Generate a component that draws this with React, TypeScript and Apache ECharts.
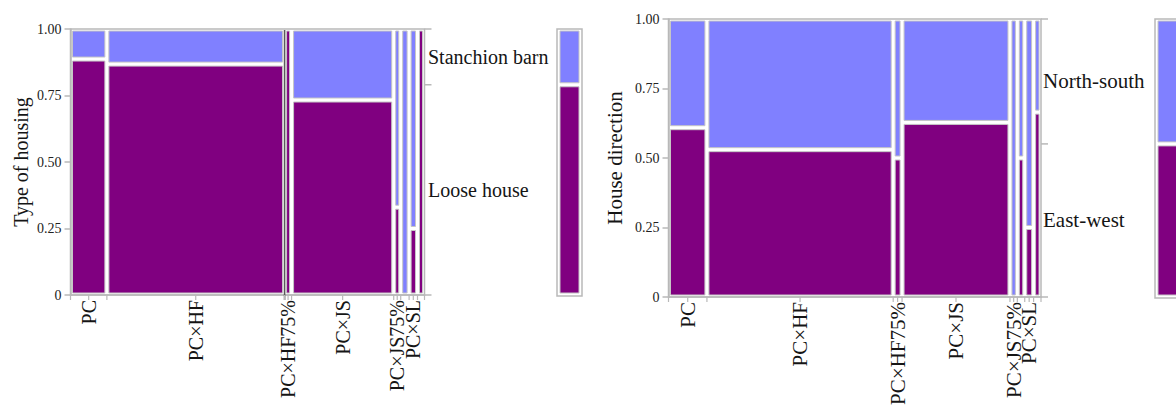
import React, { useEffect, useRef } from 'react';
import * as echarts from 'echarts';

// Type of housing by treatment group
const housingGroups = ['PC', 'PC×HF', '', 'PC×HF75%', 'PC×JS', 'PC×JS75%', '', 'PC×SL', ''];
const housingCounts = [26, 127, 0, 5, 73, 5, 6, 6, 5];
const looseHouseShare = [0.887, 0.868, 0, 1, 0.733, 0.33, 0, 0.25, 1];
const housingLevels = ['Loose house', 'Stanchion barn'];

// House direction by treatment group
const directionGroups = ['PC', 'PC×HF', 'PC×HF75%', 'PC×JS', 'PC×JS75%', '', 'PC×SL', ''];
const directionCounts = [26, 126, 6, 73, 5, 5, 6, 5];
const eastWestShare = [0.609, 0.53, 0.5, 0.628, 0, 0.5, 0.25, 0.665];
const directionLevels = ['East-west', 'North-south'];

const yTickValues = [0, 0.25, 0.5, 0.75, 1];

const LOWER = '#800080';
const UPPER = '#8080ff';
const EDGE = '#c6c6c6';
const AXIS = '#b9b9b9';
const INK = '#151515';
const SERIF = '"Liberation Serif", "Times New Roman", serif';

type Panel = {
  title: string;
  groups: string[];
  counts: number[];
  share: number[];
  levels: string[];
  grid: { left: number; top: number; width: number; height: number };
  nameGap: number;
  textSize: number;
  tickSize: number;
  legendDx: number;
  marginX: number;
  marginW: number;
};

const panels: Panel[] = [
  {
    title: 'Type of housing',
    groups: housingGroups,
    counts: housingCounts,
    share: looseHouseShare,
    levels: housingLevels,
    grid: { left: 70.5, top: 29, width: 354, height: 266 },
    nameGap: 40,
    textSize: 20,
    tickSize: 14,
    legendDx: 3.5,
    marginX: 557,
    marginW: 25,
  },
  {
    title: 'House direction',
    groups: directionGroups,
    counts: directionCounts,
    share: eastWestShare,
    levels: directionLevels,
    grid: { left: 668.5, top: 19, width: 372.5, height: 278 },
    nameGap: 43,
    textSize: 21,
    tickSize: 14,
    legendDx: 2,
    marginX: 1155,
    marginW: 26,
  },
];

const INSET = 2;

function cellRect(x0: number, x1: number, yTop: number, yBottom: number, fill: string) {
  return {
    type: 'rect',
    shape: {
      x: x0 + INSET,
      y: yTop + INSET,
      width: Math.max(0, x1 - x0 - 2 * INSET),
      height: Math.max(0, yBottom - yTop - 2 * INSET),
    },
    style: { fill, stroke: EDGE, lineWidth: 1 },
  };
}

function buildPanel(p: Panel, idx: number) {
  const total = p.counts.reduce((a, b) => a + b, 0);
  const overall = p.counts.reduce((a, c, i) => a + c * p.share[i], 0) / total;

  let acc = 0;
  const rows = p.counts.map((c, i) => {
    const row = [acc, acc + c, p.share[i], i];
    acc += c;
    return row;
  });

  const mosaic = {
    type: 'custom',
    xAxisIndex: idx,
    yAxisIndex: idx,
    clip: false,
    data: rows,
    renderItem: (_params: any, api: any) => {
      const x0 = api.value(0);
      const x1 = api.value(1);
      const s = api.value(2);
      const i = api.value(3);
      const [px0, pyBottom] = api.coord([x0, 0]);
      const [px1, pyTop] = api.coord([x1, 1]);
      const pyMid = api.coord([x0, s])[1];
      const children: any[] = [];
      const tick = (x: number) => ({
        type: 'line',
        shape: { x1: x, y1: pyBottom, x2: x, y2: pyBottom + 5 },
        style: { stroke: AXIS, lineWidth: 1.2 },
      });

      if (x1 === x0) {
        // empty group: drawn as a single dark rule
        children.push({
          type: 'line',
          shape: { x1: px0, y1: pyTop + 1, x2: px0, y2: pyBottom + 5 },
          style: { stroke: '#5a5a5a', lineWidth: 1.6 },
        });
      } else {
        if (s < 1) children.push(cellRect(px0, px1, pyTop, pyMid, UPPER));
        if (s > 0) children.push(cellRect(px0, px1, pyMid, pyBottom, LOWER));
        children.push(tick(px0));
        if (i === p.counts.length - 1) children.push(tick(px1));
      }

      const label = p.groups[i];
      if (label) {
        const cx = (px0 + px1) / 2;
        children.push(tick(cx));
        children.push({
          type: 'text',
          x: cx,
          y: pyBottom + 5,
          rotation: Math.PI / 2,
          style: {
            text: label,
            align: 'right',
            verticalAlign: 'middle',
            fill: INK,
            fontFamily: SERIF,
            fontSize: p.textSize,
          },
        });
      }
      return { type: 'group', children };
    },
  };

  // Overall split: right-side ticks, level names and the marginal bar
  const margin = {
    type: 'custom',
    xAxisIndex: idx,
    yAxisIndex: idx,
    clip: false,
    data: [[total, overall]],
    renderItem: (_params: any, api: any) => {
      const xr = api.value(0);
      const s = api.value(1);
      const [pxR, pyBottom] = api.coord([xr, 0]);
      const pyTop = api.coord([xr, 1])[1];
      const pyMid = api.coord([xr, s])[1];
      const children: any[] = [];
      [pyTop, pyMid, pyBottom].forEach((y) =>
        children.push({
          type: 'line',
          shape: { x1: pxR, y1: y, x2: pxR + 7, y2: y },
          style: { stroke: AXIS, lineWidth: 1.5 },
        })
      );
      const legend = (text: string, y: number) => ({
        type: 'text',
        x: pxR + p.legendDx,
        y,
        style: {
          text,
          align: 'left',
          verticalAlign: 'middle',
          fill: INK,
          fontFamily: SERIF,
          fontSize: p.textSize,
        },
      });
      children.push(legend(p.levels[1], (pyTop + pyMid) / 2));
      children.push(legend(p.levels[0], (pyMid + pyBottom) / 2));

      const mx0 = p.marginX;
      const mx1 = p.marginX + p.marginW;
      children.push({
        type: 'rect',
        shape: { x: mx0, y: pyTop, width: p.marginW, height: pyBottom - pyTop + 1 },
        style: { fill: 'none', stroke: AXIS, lineWidth: 1.5 },
      });
      children.push(cellRect(mx0 + 1, mx1 - 1, pyTop, pyMid, UPPER));
      children.push(cellRect(mx0 + 1, mx1 - 1, pyMid, pyBottom, LOWER));
      return { type: 'group', children };
    },
  };

  const grid = { ...p.grid, show: true, borderColor: AXIS, borderWidth: 1.5, backgroundColor: 'transparent' };

  const xAxis = {
    gridIndex: idx,
    type: 'value',
    min: 0,
    max: total,
    axisLine: { show: true, lineStyle: { color: AXIS, width: 1.5 } },
    axisTick: { show: false },
    axisLabel: { show: false },
    splitLine: { show: false },
  };

  const yAxis = {
    gridIndex: idx,
    type: 'value',
    min: 0,
    max: 1,
    interval: 0.25,
    name: p.title,
    nameLocation: 'middle',
    nameRotate: 90,
    nameGap: p.nameGap,
    nameTextStyle: { fontFamily: SERIF, fontSize: p.textSize, color: INK },
    axisLine: { show: true, lineStyle: { color: AXIS, width: 1.5 } },
    axisTick: { show: true, length: 6, lineStyle: { color: AXIS, width: 1.5 } },
    axisLabel: {
      fontFamily: SERIF,
      fontSize: p.tickSize,
      color: '#222',
      margin: 9,
      formatter: (v: number) => (yTickValues.includes(v) ? (v === 0 ? '0' : v.toFixed(2)) : ''),
    },
    splitLine: { show: false },
  };

  return { grid, xAxis, yAxis, series: [mosaic, margin] };
}

export default function App() {
  const ref = useRef<HTMLDivElement>(null);

  useEffect(() => {
    if (!ref.current) return;
    const chart = echarts.init(ref.current, null, { renderer: 'svg' });
    const built = panels.map(buildPanel);
    chart.setOption({
      animation: false,
      backgroundColor: '#ffffff',
      grid: built.map((b) => b.grid),
      xAxis: built.map((b) => b.xAxis),
      yAxis: built.map((b) => b.yAxis),
      series: built.flatMap((b) => b.series),
    } as any);
    return () => chart.dispose();
  }, []);

  return (
    <div
      ref={ref}
      style={{ position: 'absolute', left: 0, top: 0, width: 1176, height: 410, background: '#fff' }}
    />
  );
}
